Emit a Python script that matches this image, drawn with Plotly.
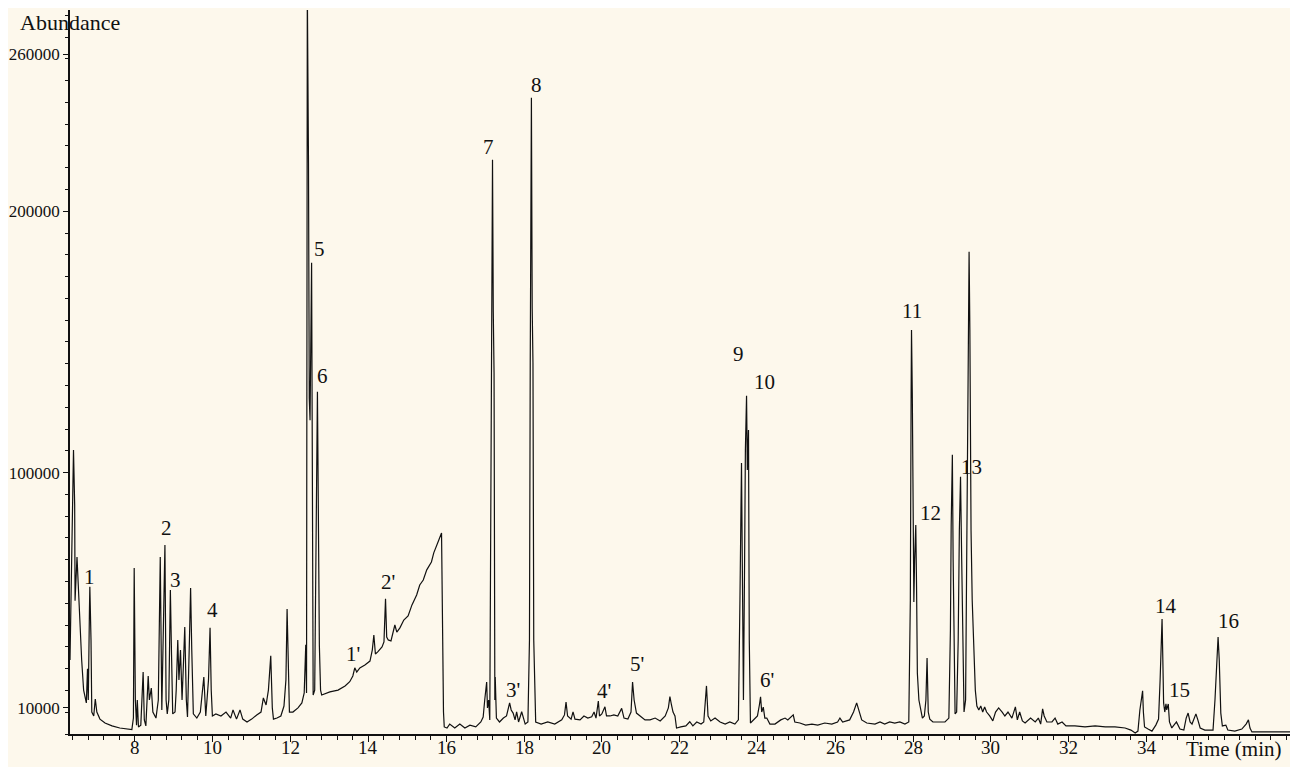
import plotly.graph_objects as go

# ---- chromatogram trace (time in min, abundance in thousands) ----
t_seg1 = [6.33, 6.38, 6.42, 6.45, 6.46, 6.51, 6.55, 6.58, 6.63, 6.68, 6.75, 6.78, 6.80, 6.83, 6.84,
          6.87, 6.89, 6.94, 6.98, 7.02, 7.10, 7.23, 7.41, 7.61, 7.82, 7.92, 7.96, 7.98, 8.01, 8.04,
          8.06, 8.09, 8.15, 8.21, 8.24, 8.28, 8.34, 8.37, 8.42, 8.46, 8.54, 8.60, 8.65, 8.69, 8.73,
          8.77, 8.80, 8.83, 8.87, 8.91, 8.94, 8.97, 9.03, 9.06, 9.10, 9.13, 9.17, 9.21, 9.24, 9.28,
          9.32, 9.35, 9.40, 9.43, 9.46, 9.50, 9.59, 9.68, 9.77, 9.82, 9.89, 9.93, 9.96, 9.99]
a_seg1 = [28.3, 77, 108.7, 87.6, 51, 67.7, 52.8, 41.7, 28.3, 16.8, 11.9, 25, 13, 47.5, 56.3,
          36, 8.4, 6.9, 13.4, 8.4, 5.7, 4.2, 3.1, 2.3, 1.9, 1.7, 6.1, 63.5, 13, 3.4,
          13, 2.7, 3.4, 23.7, 5.4, 3.1, 22.2, 13, 17.6, 8.4, 6.1, 13, 67.7, 9.2, 40.6,
          72.3, 13, 7.7, 13, 55.1, 30.2, 7.7, 8.4, 16.8, 36, 20.7, 32.1, 13, 24.5, 40.9,
          13, 6.5, 36, 55.9, 32.1, 7.7, 6.1, 8.4, 21.8, 6.9, 20.7, 40.6, 16.8, 6.9]

t_seg2 = [10.08, 10.21, 10.34, 10.46, 10.52, 10.61, 10.70, 10.77, 10.88, 11.00, 11.13, 11.24, 11.30,
          11.37, 11.43, 11.49, 11.53, 11.56, 11.65, 11.75, 11.83, 11.88, 11.91, 11.94, 11.97, 12.06,
          12.19, 12.29, 12.35, 12.39, 12.41, 12.43, 12.46, 12.48, 12.50, 12.54, 12.56, 12.58, 12.62,
          12.67, 12.69, 12.74, 12.77, 12.80, 13.01, 13.22, 13.40, 13.52, 13.60, 13.65, 13.70, 13.78,
          13.91, 14.04, 14.10, 14.14, 14.18, 14.24, 14.35, 14.40, 14.44, 14.47, 14.51, 14.58, 14.63,
          14.68, 14.73, 14.81, 14.91, 15.02, 15.12, 15.24, 15.32, 15.41, 15.50, 15.62, 15.68, 15.75,
          15.81, 15.88, 15.90, 15.93, 15.95]
a_seg2 = [7.7, 6.9, 8.4, 6.1, 9.2, 5.7, 9.2, 5.7, 4.6, 5.7, 7.3, 8.4, 13.8,
          11.1, 16.8, 29.9, 10, 5.7, 6.1, 6.9, 10.7, 20.7, 47.8, 20.7, 8.4, 8.4,
          10, 11.9, 15.7, 34.1, 15.7, 285, 218.5, 128.6, 120, 180.3, 116, 14.9, 16.8,
          89.6, 130.9, 33.7, 16.8, 14.9, 16.1, 16.8, 18.4, 20, 22.2, 25.3, 23.7, 25.3,
          26.4, 27.9, 32.1, 37.9, 30.6, 31.4, 33.3, 35.2, 51.7, 37.1, 36, 35.6, 38.7,
          41.7, 39, 40.6, 43.6, 45.2, 49.4, 53.2, 57, 58.9, 62.8, 65.8, 69.3, 71.6,
          74.2, 76.9, 43.6, 8.4, 2.7]

t_seg3 = [16.02, 16.09, 16.22, 16.35, 16.48, 16.61, 16.76, 16.89, 16.95, 16.99, 17.04, 17.06, 17.09,
          17.12, 17.16, 17.18, 17.19, 17.21, 17.23, 17.25, 17.26, 17.29, 17.37, 17.47, 17.55, 17.63,
          17.67, 17.72, 17.77, 17.81, 17.86, 17.94, 17.97, 18.03, 18.10, 18.14, 18.16, 18.17, 18.19,
          18.21, 18.23, 18.25, 18.28, 18.30, 18.44, 18.61, 18.79, 18.97, 19.04, 19.08, 19.12, 19.21,
          19.26, 19.31, 19.44, 19.54, 19.64, 19.74, 19.80, 19.85, 19.91, 19.94, 20.00, 20.08, 20.12,
          20.21, 20.31, 20.41, 20.51, 20.57, 20.67, 20.75, 20.79, 20.83, 20.89, 20.98, 21.11, 21.24,
          21.37, 21.50, 21.63, 21.71, 21.75, 21.79, 21.83, 21.88, 21.92, 22.03, 22.16, 22.26, 22.34,
          22.44, 22.55, 22.62, 22.66, 22.69, 22.73, 22.80, 22.91, 23.04, 23.17, 23.29, 23.42, 23.51]
a_seg3 = [2.3, 3.8, 2.3, 3.8, 2.3, 3.4, 2.7, 4.6, 6.5, 13, 19.9, 10, 13,
          5.4, 138.2, 161.9, 219.7, 161.5, 138.2, 13, 21.8, 6.1, 4.6, 6.1, 6.9, 11.9,
          9.2, 8, 5.4, 8.5, 4.6, 8.5, 6.9, 3.8, 4.6, 36, 142, 163, 243.4,
          163, 142, 36, 14.2, 4.6, 3.8, 4.6, 3.8, 5.4, 7.3, 12.2, 6.9, 5.7,
          8.5, 5.7, 5.4, 6.9, 6.1, 6.6, 8.4, 6.1, 12.6, 6.9, 7.7, 10.4, 6.9,
          6.9, 7.3, 6.9, 9.8, 6.1, 5.7, 8.4, 19.9, 13, 8, 6.9, 5.4, 5.4,
          6.1, 5, 6.9, 10, 14.3, 11.1, 8.4, 6.9, 2.3, 2.7, 3.1, 4.7, 3.1,
          4.6, 3.8, 4.6, 11.9, 18.4, 6.9, 5, 6.1, 4.6, 3.8, 4.6, 3.8, 5.4]

t_seg4 = [23.55, 23.59, 23.61, 23.64, 23.67, 23.69, 23.72, 23.74, 23.77, 23.79, 23.82, 23.88, 23.94,
          24.00, 24.05, 24.08, 24.11, 24.15, 24.19, 24.24, 24.32, 24.45, 24.60, 24.71, 24.78, 24.86,
          24.92, 24.96, 25.09, 25.24, 25.40, 25.55, 25.73, 25.91, 26.06, 26.12, 26.19, 26.37, 26.47,
          26.55, 26.61, 26.68, 26.81, 27.02, 27.15, 27.27, 27.40, 27.53, 27.66, 27.79, 27.89]
a_seg4 = [51.3, 103.7, 66.6, 13, 66.6, 108.7, 129.4, 101, 116.3, 36, 4.2, 5, 6.1,
          6.9, 11.1, 14.2, 8.4, 10.3, 6.1, 6.1, 3.8, 3.8, 5.4, 6.1, 5.4, 6.5,
          7.3, 4.6, 4.2, 3.4, 3.8, 3.4, 4.2, 3.8, 4.6, 6.1, 4.6, 5.4, 8.4,
          11.9, 8.4, 5.4, 4.2, 3.8, 4.6, 3.8, 4.6, 4.2, 4.6, 3.8, 4.6]

t_seg5 = [27.93, 27.95, 27.96, 27.98, 28.00, 28.02, 28.04, 28.07, 28.09, 28.11, 28.15, 28.19, 28.24,
          28.29, 28.33, 28.36, 28.39, 28.43, 28.51, 28.61, 28.72, 28.82, 28.92, 28.96, 28.98, 29.01,
          29.03, 29.06, 29.08, 29.12, 29.16, 29.19, 29.22, 29.25, 29.29, 29.31, 29.35, 29.38, 29.41,
          29.44, 29.46, 29.49, 29.52, 29.56, 29.60, 29.64, 29.69, 29.74, 29.79, 29.84, 29.89, 29.97,
          30.05, 30.12, 30.20, 30.29, 30.36, 30.44, 30.54, 30.63, 30.68, 30.74, 30.81, 30.88, 31.02,
          31.14, 31.22, 31.28, 31.33, 31.37, 31.44, 31.57, 31.65, 31.72, 31.83, 31.93]
a_seg5 = [51.3, 130.5, 154.6, 130.5, 94.1, 50.5, 66.6, 80, 55.9, 23.3, 13, 9.2, 6.1,
          6.9, 13, 29.1, 8.4, 5.7, 4.6, 4.6, 4.6, 4.6, 6.1, 39.8, 80, 106.8,
          66.6, 20.7, 7.7, 8.4, 36, 78, 98.4, 66.6, 16.8, 8.4, 13, 78, 154.6,
          184.5, 154.6, 78, 51.3, 36, 16.8, 10.7, 9.2, 10.7, 8.4, 10.3, 8.4, 6.9,
          5, 8.4, 10, 8.4, 6.9, 8.4, 6.1, 10.4, 5.4, 8.4, 5, 4.2, 6.1,
          4.6, 6.1, 3.8, 9.6, 6.9, 4.6, 4.6, 6.1, 3.8, 4.6, 3.1]

t_seg6 = [32.16, 32.42, 32.68, 32.94, 33.19, 33.45, 33.60, 33.71, 33.78, 33.83, 33.87, 33.90, 33.92,
          33.95, 34.04, 34.14, 34.24, 34.31, 34.35, 34.37, 34.40, 34.42, 34.44, 34.47, 34.50, 34.52,
          34.56, 34.59, 34.65, 34.77, 34.86, 34.96, 35.02, 35.07, 35.12, 35.17, 35.22, 35.27, 35.32,
          35.38, 35.50, 35.63, 35.71, 35.76, 35.80, 35.83, 35.84, 35.87, 35.91, 35.95, 36.04, 36.09,
          36.27, 36.45, 36.56, 36.62, 36.66, 36.71, 37.18, 37.69]
a_seg6 = [3.1, 2.7, 3.1, 2.7, 2.7, 2.3, 1.5, 0.4, 1.1, 9.2, 14.9, 16.5, 8.4,
          2.7, 1.9, 1.1, 3.4, 5.7, 20.7, 30.2, 44, 28.3, 11.9, 8.4, 11.5, 9.2,
          11.5, 4.6, 2.3, 4.6, 1.9, 1.5, 6.1, 8, 4.6, 3.8, 6.1, 7.7, 5.4,
          2.3, 1.5, 1.5, 1.5, 13, 28.3, 36, 37.1, 28.3, 8, 3.1, 3.4, 1.5,
          1.1, 1.9, 3.8, 5.4, 2.3, 0.8, 0.8, 0.8]

# ---- peak labels (text, time, abundance in thousands) ----
peak_labels = ["1", "2", "3", "4", "5", "6", "7", "8", "1'", "2'", "3'", "4'", "5'", "6'",
               "9", "10", "11", "12", "13", "14", "15", "16"]
peak_label_t = [6.84, 8.82, 9.05, 10.00, 12.75, 12.83, 17.08, 18.33, 13.60, 14.50, 17.71, 20.05,
                20.90, 24.25, 23.52, 24.19, 27.97, 28.44, 29.49, 34.50, 34.86, 36.12]
peak_label_a = [60.0, 78.9, 58.9, 47.5, 185.6, 137.1, 224.6, 248.4, 30.6, 58.2, 16.8, 16.5,
                26.8, 20.7, 145.4, 134.7, 161.9, 84.6, 102.2, 49.0, 16.8, 43.2]

x_tick_vals = [8, 10, 12, 14, 16, 18, 20, 22, 24, 26, 28, 30, 32, 34]
x_tick_text = ["8", "10", "12", "14", "16", "18", "20", "22", "24", "26", "28", "30", "32", "34"]
y_tick_vals = [10000, 100000, 200000, 260000]
y_tick_text = ["10000", "100000", "200000", "260000"]

time_min = t_seg1 + t_seg2 + t_seg3 + t_seg4 + t_seg5 + t_seg6
abund = [v * 1000 for v in (a_seg1 + a_seg2 + a_seg3 + a_seg4 + a_seg5 + a_seg6)]

BG = "#FDF8EC"
INK = "#111111"
SERIF = "Liberation Serif, Times New Roman, serif"

fig = go.Figure()
fig.add_trace(go.Scatter(x=time_min, y=abund, mode="lines",
                         line=dict(color=INK, width=1.2), hoverinfo="skip",
                         showlegend=False))

for txt, tx, ay in zip(peak_labels, peak_label_t, peak_label_a):
    fig.add_annotation(x=tx, y=ay * 1000, xref="x", yref="y", text=txt, showarrow=False,
                       font=dict(family=SERIF, size=21, color=INK),
                       xanchor="center", yanchor="middle")

# x tick labels (placed close under the axis, as in the reference)
for v, s in zip(x_tick_vals, x_tick_text):
    fig.add_annotation(x=v, y=0, xref="x", yref="paper", text=s, showarrow=False,
                       xanchor="center", yanchor="middle", yshift=-13,
                       font=dict(family=SERIF, size=19, color=INK))

fig.add_annotation(x=0.0, y=0.983, xref="paper", yref="paper", text="Abundance",
                   showarrow=False, xanchor="center", yanchor="middle",
                   font=dict(family=SERIF, size=22, color=INK))
fig.add_annotation(x=0.9525, y=0, xref="paper", yref="paper", text="Time (min)",
                   showarrow=False, xanchor="center", yanchor="middle", yshift=-15,
                   font=dict(family=SERIF, size=21, color=INK))

fig.update_layout(
    width=1290, height=759,
    margin=dict(l=62, r=6, t=2, b=33),
    paper_bgcolor=BG, plot_bgcolor=BG,
    showlegend=False,
    xaxis=dict(range=[6.33, 37.74], tickmode="array", tickvals=x_tick_vals,
               showticklabels=False,
               ticks="outside", ticklen=6, tickwidth=1.2, tickcolor=INK,
               showline=True, linecolor=INK, linewidth=1.5, showgrid=False, zeroline=False,
               automargin=False,
               minor=dict(ticks="outside", ticklen=4, tickcolor=INK, dtick=0.4, tick0=6.0,
                          showgrid=False)),
    yaxis=dict(range=[0, 277000], tickmode="array", tickvals=y_tick_vals, ticktext=y_tick_text,
               ticks="outside", ticklen=5, tickwidth=1.2, tickcolor=INK,
               showline=True, linecolor=INK, linewidth=1.5, showgrid=False, zeroline=False,
               automargin=False,
               tickfont=dict(family=SERIF, size=17, color=INK),
               minor=dict(ticks="outside", ticklen=3, tickcolor=INK, dtick=100000 / 12,
                          tick0=0, showgrid=False)),
)

fig.write_html("out.html")
